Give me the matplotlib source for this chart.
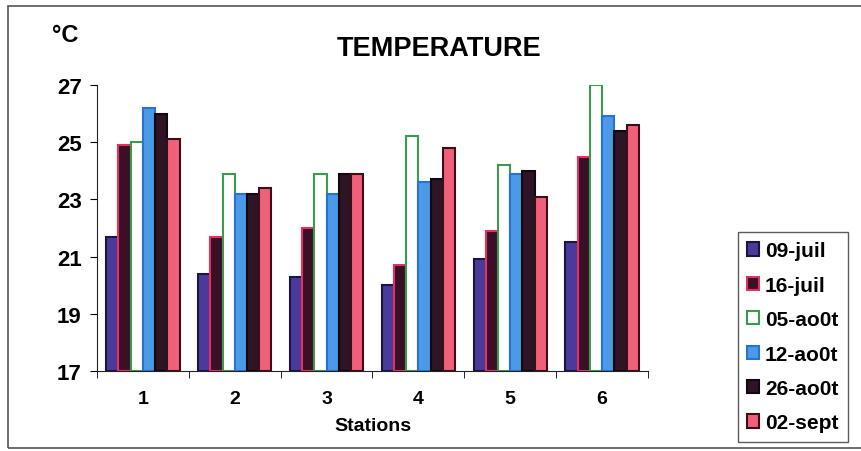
import numpy as np
import matplotlib.pyplot as plt
from matplotlib.patches import Rectangle

plt.rcParams['font.family'] = ['Liberation Sans', 'DejaVu Sans']
plt.rcParams['font.weight'] = 'bold'

stations = ['1', '2', '3', '4', '5', '6']
dates = ['09-juil', '16-juil', '05-ao0t', '12-ao0t', '26-ao0t', '02-sept']

t_09juil = [21.7, 20.4, 20.3, 20.0, 20.9, 21.5]
t_16juil = [24.9, 21.7, 22.0, 20.7, 21.9, 24.5]
t_05aout = [25.0, 23.9, 23.9, 25.2, 24.2, 27.0]
t_12aout = [26.2, 23.2, 23.2, 23.6, 23.9, 25.9]
t_26aout = [26.0, 23.2, 23.9, 23.7, 24.0, 25.4]
t_02sept = [25.1, 23.4, 23.9, 24.8, 23.1, 25.6]

series = [t_09juil, t_16juil, t_05aout, t_12aout, t_26aout, t_02sept]
fills = ['#4a3a9c', '#3a1026', '#ffffff', '#4a9ae6', '#2e1424', '#f0607a']
edges = ['#1c1440', '#e83060', '#3a9a50', '#2a70d8', '#120810', '#3a1018']

fig = plt.figure(figsize=(8.62, 4.52), dpi=100)
ax = fig.add_axes([97 / 862, 1 - 372 / 452, (648 - 97) / 862, (372 - 86) / 452])

x = np.arange(len(stations))
w = 0.8 / len(series)
for i, vals in enumerate(series):
    ax.bar(x - 0.4 + w * (i + 0.5), np.array(vals) - 17, w, bottom=17,
           color=fills[i], edgecolor=edges[i], linewidth=1.5, label=dates[i])

ax.set_ylim(17, 27)
ax.set_xlim(-0.5, 5.5)
ax.set_yticks([17, 19, 21, 23, 25, 27])
ax.set_xticks(x)
ax.set_xticklabels(stations)
ax.set_xticks(np.arange(-0.5, 6, 1), minor=True)
ax.tick_params(axis='x', which='major', length=0, labelsize=14, pad=14)
ax.tick_params(axis='x', which='minor', length=5, direction='out')
ax.tick_params(axis='y', length=5, labelsize=16, pad=6)
for s in ['top', 'right']:
    ax.spines[s].set_visible(False)
ax.spines['left'].set_color('#222222')
ax.spines['bottom'].set_color('#222222')
ax.set_xlabel('Stations', fontsize=14, fontweight='bold', labelpad=7)

fig.text(439 / 862, 1 - 49 / 452, 'TEMPERATURE', fontsize=19.5, fontweight='bold',
         ha='center', va='center')
fig.text(52 / 862, 1 - 36 / 452, '°C', fontsize=17, fontweight='bold',
         ha='left', va='center')

leg = fig.legend(loc='upper left', bbox_to_anchor=(738 / 862, 1 - 233 / 452),
                 frameon=True, fancybox=False, fontsize=15, handlelength=0.55,
                 handleheight=0.6, handletextpad=0.3, labelspacing=0.74,
                 borderpad=0.45, borderaxespad=0)
leg.get_frame().set_edgecolor('#333333')
leg.get_frame().set_linewidth(1.0)

# outer chart border
fig.add_artist(Rectangle((8 / 862, 1 - 449 / 452), 1.0, (449 - 7) / 452,
                         transform=fig.transFigure, fill=False,
                         edgecolor='#555555', linewidth=1.2))

fig.savefig('out.png', dpi=100)
